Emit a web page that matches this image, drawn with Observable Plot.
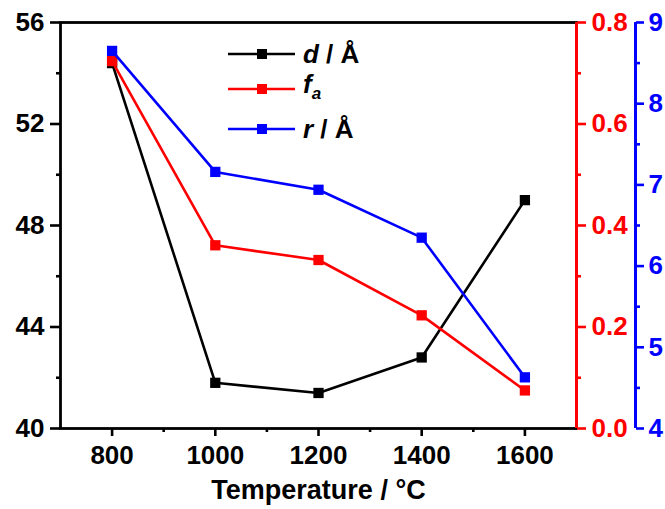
<!DOCTYPE html>
<html>
<head>
<meta charset="utf-8">
<script src="https://cdn.jsdelivr.net/npm/d3@7"></script>
<script src="https://cdn.jsdelivr.net/npm/@observablehq/plot@0.6"></script>
<style>
  html, body { margin: 0; padding: 0; background: white; }
  #wrap { position: relative; width: 665px; height: 509px; font-family: "Liberation Sans", Arial, sans-serif; }
  .leg { position: absolute; left: 228px; height: 30px; display: flex; align-items: center; font-weight: bold; font-size: 26px; color: black; }
  .leg svg { display: block; }
  .leg .txt { margin-left: 8px; line-height: 30px; white-space: nowrap; }
</style>
</head>
<body>
<div id="wrap"></div>
<script>
// ---- data ----
const temps = [800, 1000, 1200, 1400, 1600];
const dVals = [54.4, 41.8, 41.4, 42.8, 49.0];
const faVals = [0.724, 0.361, 0.332, 0.223, 0.075];
const rVals = [8.65, 7.16, 6.94, 6.35, 4.63];

const xTicks = [800, 1000, 1200, 1400, 1600];
const xMinor = [900, 1100, 1300, 1500];
const dTicks = [40, 44, 48, 52, 56];
const dMinor = [42, 46, 50, 54];
const faTicks = [0, 0.2, 0.4, 0.6, 0.8];
const faMinor = [0.1, 0.3, 0.5, 0.7];
const rTicks = [4, 5, 6, 7, 8, 9];
const rMinor = [4.5, 5.5, 6.5, 7.5, 8.5];

const xLabel = "Temperature / °C";
const seriesNames = ["d", "fa", "r"];
const seriesColors = ["#000000", "#ff0000", "#0000ff"];

// ---- secondary scale mapping onto the left (d) axis ----
const dDomain = [40, 56];
const faDomain = [0, 0.8];
const rDomain = [4, 9];
const faToY = v => dDomain[0] + (v - faDomain[0]) / (faDomain[1] - faDomain[0]) * (dDomain[1] - dDomain[0]);
const yToFa = y => faDomain[0] + (y - dDomain[0]) / (dDomain[1] - dDomain[0]) * (faDomain[1] - faDomain[0]);
const rToY = v => dDomain[0] + (v - rDomain[0]) / (rDomain[1] - rDomain[0]) * (dDomain[1] - dDomain[0]);
const yToR = y => rDomain[0] + (y - dDomain[0]) / (dDomain[1] - dDomain[0]) * (rDomain[1] - rDomain[0]);

const rows = temps.map((t, i) => ({t, d: dVals[i], fa: faToY(faVals[i]), r: rToY(rVals[i])}));

const SW = 2.6;
const FS = 26;
const chart = Plot.plot({
  width: 665,
  height: 509,
  marginLeft: 60,
  marginRight: 89,
  marginTop: 22,
  marginBottom: 81,
  x: {domain: [700, 1700]},
  y: {domain: dDomain},
  style: {fontFamily: "'Liberation Sans', Arial, sans-serif", fontSize: "26px", fontWeight: "bold", color: "black", background: "white", overflow: "visible"},
  marks: [
    // lines & markers
    Plot.line(rows, {x: "t", y: "d", stroke: seriesColors[0], strokeWidth: SW}),
    Plot.dot(rows, {x: "t", y: "d", symbol: "square", r: 5.8, fill: seriesColors[0], stroke: "none"}),
    Plot.line(rows, {x: "t", y: "fa", stroke: seriesColors[1], strokeWidth: SW}),
    Plot.dot(rows, {x: "t", y: "fa", symbol: "square", r: 5.8, fill: seriesColors[1], stroke: "none"}),
    Plot.line(rows, {x: "t", y: "r", stroke: seriesColors[2], strokeWidth: SW}),
    Plot.dot(rows, {x: "t", y: "r", symbol: "square", r: 5.8, fill: seriesColors[2], stroke: "none"}),
    // x axis
    Plot.axisX(xTicks, {tickSize: 8, tickPadding: 9, strokeWidth: 2.6, label: null, fontSize: FS, tickFormat: d3.format("d")}),
    Plot.axisX(xMinor, {tickSize: 4, tickFormat: () => "", strokeWidth: 2.6, label: null}),
    Plot.text([xLabel], {frameAnchor: "bottom", dy: 70, fontSize: 27, fontWeight: "bold", fill: "black"}),
    // left axis
    Plot.axisY(dTicks, {anchor: "left", tickSize: 10, tickPadding: 6, strokeWidth: 2.6, label: null, fontSize: FS}),
    Plot.axisY(dMinor, {anchor: "left", tickSize: 4, tickFormat: () => "", strokeWidth: 2.6, label: null}),
    // frame
    Plot.frame({stroke: "black", strokeWidth: 2.8}),
    // red right axis
    Plot.ruleX([1700], {stroke: seriesColors[1], strokeWidth: 3}),
    Plot.axisY(faTicks.map(faToY), {anchor: "right", tickSize: 9, tickPadding: 6, strokeWidth: 2.6, color: seriesColors[1], label: null, fontSize: FS, tickFormat: v => d3.format(".1f")(yToFa(v))}),
    Plot.axisY(faMinor.map(faToY), {anchor: "right", tickSize: 4, strokeWidth: 2.6, color: seriesColors[1], label: null, tickFormat: () => ""}),
    // blue offset axis
    Plot.ruleX([1700], {stroke: seriesColors[2], strokeWidth: 3, dx: 59}),
    Plot.axisY(rTicks.map(rToY), {anchor: "right", dx: 59, tickSize: 8, tickPadding: 5, strokeWidth: 2.6, color: seriesColors[2], label: null, fontSize: FS, tickFormat: v => d3.format("d")(Math.round(yToR(v)))}),
    Plot.axisY(rMinor.map(rToY), {anchor: "right", dx: 59, tickSize: 4, strokeWidth: 2.6, color: seriesColors[2], label: null, tickFormat: () => ""})
  ]
});
const wrap = document.getElementById("wrap");
wrap.appendChild(chart);

// ---- legend (HTML overlay) ----
const legendTexts = [
  '<i>d</i> / Å',
  '<i>f<sub style="font-size:17px;vertical-align:-6px">a</sub></i>',
  '<i>r</i> / Å'
];
const legendCY = [54, 89, 129];
seriesNames.forEach((name, i) => {
  const row = document.createElement("div");
  row.className = "leg";
  row.style.top = (legendCY[i] - 15) + "px";
  const c = seriesColors[i];
  row.innerHTML = `<svg width="67" height="30"><line x1="0" x2="67" y1="15" y2="15" stroke="${c}" stroke-width="2.6"/><rect x="29" y="10" width="10" height="10" fill="${c}"/></svg><span class="txt">${legendTexts[i]}</span>`;
  wrap.appendChild(row);
});
</script>
</body>
</html>
